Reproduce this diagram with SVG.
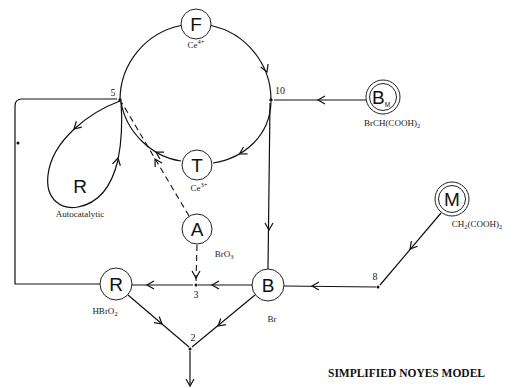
<svg xmlns="http://www.w3.org/2000/svg" xmlns:xlink="http://www.w3.org/1999/xlink" width="513" height="388" viewBox="0 0 513 388">
<style>
.ln{fill:none;stroke:#111;stroke-width:1.2}
.dash{fill:none;stroke:#111;stroke-width:1.1;stroke-dasharray:6 4}
.nd{fill:#fff;stroke:#222;stroke-width:1}
.lt{font-family:"Liberation Sans",Arial,sans-serif;font-size:19px;fill:#111;text-anchor:middle}
.lb{font-family:"Liberation Serif","Times New Roman",serif;font-size:9px;fill:#222;text-anchor:middle}
.num{font-family:"Liberation Serif","Times New Roman",serif;font-size:10px;fill:#222;text-anchor:middle}
.title{font-family:"Liberation Serif","Times New Roman",serif;font-size:12px;font-weight:bold;fill:#111}
.sub{font-size:6.5px}
</style>
<defs>
<path id="ah" d="M-7,-4 L0,0 L-7,4" fill="none" stroke="#111" stroke-width="1.2"/>
</defs>
<rect width="513" height="388" fill="#fff"/>
<g id="connectors">
<path class="ln" d="M120,100 A76,76 0 0 1 181.1,25.5"/>
<path class="ln" d="M210.9,25.5 A76,76 0 0 1 271,100"/>
<use xlink:href="#ah" transform="translate(267,72) rotate(68)"/>
<path class="ln" d="M366,100 L274,100"/>
<use xlink:href="#ah" transform="translate(318,100) rotate(180)"/>
<path class="ln" d="M271,102 C270,135 245,158 213,163"/>
<use xlink:href="#ah" transform="translate(239.5,154) rotate(150)"/>
<path class="ln" d="M181,161 C152,157 126,132 121,102"/>
<use xlink:href="#ah" transform="translate(156,152) rotate(211)"/>
<path class="dash" d="M189,216 L122,103"/>
<use xlink:href="#ah" transform="translate(155,159) rotate(239)"/>
<path class="ln" d="M120,101 C90,112 52,140 48,175 C45,200 62,210 78,207 C100,203 112,185 118,160 C122,140 122,115 121,101"/>
<use xlink:href="#ah" transform="translate(74,129) rotate(137)"/>
<use xlink:href="#ah" transform="translate(118,158) rotate(-77)"/>
<path class="ln" d="M117,99 L22,99 Q15,99 15,106 L15,284 L100,284"/>
<path class="ln" d="M270,103 L268,269"/>
<use xlink:href="#ah" transform="translate(269,230) rotate(90)"/>
<path class="ln" d="M252,285 L198,285"/>
<use xlink:href="#ah" transform="translate(212,285) rotate(180)"/>
<path class="ln" d="M193,285 L132,285"/>
<use xlink:href="#ah" transform="translate(147,285) rotate(180)"/>
<path class="dash" d="M197,245 L196,281"/>
<use xlink:href="#ah" transform="translate(196,278) rotate(90)"/>
<path class="ln" d="M128,295 L189,347"/>
<use xlink:href="#ah" transform="translate(162,324) rotate(40)"/>
<path class="ln" d="M255,295 L192,347"/>
<use xlink:href="#ah" transform="translate(218,326) rotate(140)"/>
<path class="ln" d="M190,351 L190,386"/>
<use xlink:href="#ah" transform="translate(190,386) rotate(90)"/>
<path class="ln" d="M376,287 L284,286"/>
<use xlink:href="#ah" transform="translate(312,286) rotate(180)"/>
<path class="ln" d="M441,213 L380,285"/>
<use xlink:href="#ah" transform="translate(410,249) rotate(130)"/>
</g>
<g id="p5"><circle cx="120" cy="100" r="1.7" fill="#111"/><text class="num" x="113" y="96">5</text></g>
<g id="p10"><circle cx="271" cy="100" r="1.7" fill="#111"/><text class="num" x="280" y="94" font-size="8">10</text></g>
<g id="p3"><circle cx="196" cy="285" r="1.5" fill="#111"/><text class="num" x="196" y="298">3</text></g>
<g id="p2"><circle cx="190" cy="349" r="1.5" fill="#111"/><text class="num" x="193" y="341">2</text></g>
<g id="p8"><circle cx="378" cy="287" r="1.5" fill="#111"/><text class="num" x="375" y="280">8</text></g>
<g id="dotL"><circle cx="18" cy="143" r="1.5" fill="#111"/></g>
<g id="nF"><circle class="nd" cx="196" cy="24" r="15"/><text class="lt" x="196" y="31">F</text><text class="lb" x="196" y="48">Ce<tspan class="sub" dy="-4">4+</tspan></text></g>
<g id="nT"><circle class="nd" cx="197" cy="165" r="15"/><text class="lt" x="197" y="172">T</text><text class="lb" x="199" y="191">Ce<tspan class="sub" dy="-4">3+</tspan></text></g>
<g id="nA"><circle class="nd" cx="197" cy="229" r="15"/><text class="lt" x="197" y="236">A</text><text class="lb" x="224" y="257">BrO<tspan class="sub" dy="2">3</tspan></text></g>
<g id="nRauto"><text class="lt" x="80" y="193" font-size="20">R</text><text class="lb" x="80" y="217">Autocatalytic</text></g>
<g id="nR"><circle class="nd" cx="116" cy="284" r="16"/><text class="lt" x="116" y="291">R</text><text class="lb" x="105" y="314">HBrO<tspan class="sub" dy="2">2</tspan></text></g>
<g id="nB"><circle class="nd" cx="268" cy="285" r="16"/><text class="lt" x="268" y="292">B</text><text class="lb" x="272" y="322">Br</text></g>
<g id="nBM"><circle class="nd" cx="383" cy="97" r="17"/><circle class="nd" cx="383" cy="97" r="13.5"/><text class="lt" x="381" y="104">B<tspan class="sub" font-size="9" dy="3">M</tspan></text><text class="lb" x="392" y="126">BrCH(COOH)<tspan class="sub" dy="2">2</tspan></text></g>
<g id="nM"><circle class="nd" cx="452" cy="199" r="17"/><circle class="nd" cx="452" cy="199" r="13.5"/><text class="lt" x="452" y="206">M</text><text class="lb" x="477" y="227">CH<tspan class="sub" dy="2">2</tspan><tspan dy="-2">(COOH)</tspan><tspan class="sub" dy="2">2</tspan></text></g>
<text class="title" x="328" y="377" textLength="157" lengthAdjust="spacingAndGlyphs">SIMPLIFIED NOYES MODEL</text>
</svg>
